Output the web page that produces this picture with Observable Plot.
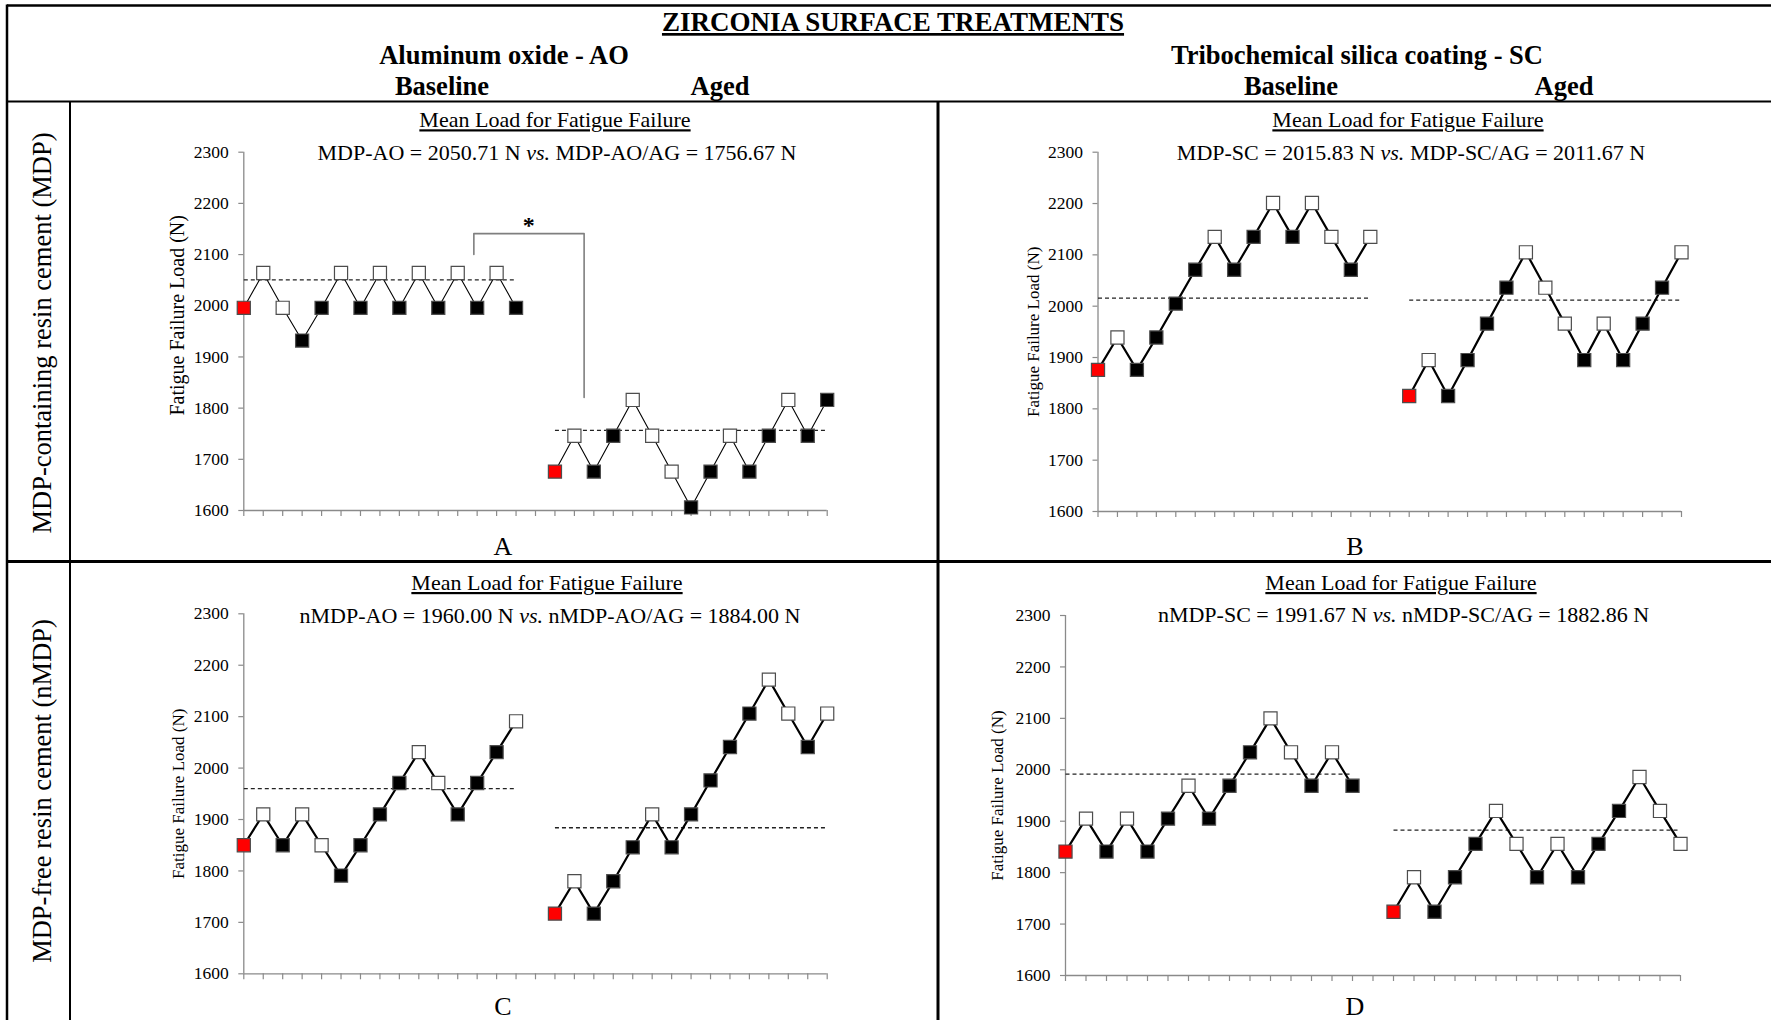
<!DOCTYPE html>
<html>
<head>
<meta charset="utf-8">
<script src="https://cdn.jsdelivr.net/npm/d3@7"></script>
<script src="https://cdn.jsdelivr.net/npm/@observablehq/plot@0.6"></script>
<style>
html, body { margin: 0; padding: 0; background: #fff; }
#root { position: relative; width: 1771px; height: 1020px; overflow: hidden; background: #fff; }
#root svg.panel { position: absolute; }
#overlay { position: absolute; left: 0; top: 0; pointer-events: none; }
</style>
</head>
<body>
<div id="root"></div>
<script>
// ---------------- DATA ----------------
const xDomain = [0, 30];
const yDomain = [1600, 2300];
const xTicks = [0,1,2,3,4,5,6,7,8,9,10,11,12,13,14,15,16,17,18,19,20,21,22,23,24,25,26,27,28,29,30];
const yTicks = [1600, 1700, 1800, 1900, 2000, 2100, 2200, 2300];
const trialsBaseline = [0,1,2,3,4,5,6,7,8,9,10,11,12,13,14];
const trialsAged = [16,17,18,19,20,21,22,23,24,25,26,27,28,29,30];
const yLabel = "Fatigue Failure Load (N)";

// A: MDP / Aluminum oxide
const aoMdpBaseline = [1996, 2064, 1996, 1932, 1996, 2064, 1996, 2064, 1996, 2064, 1996, 2064, 1996, 2064, 1996];
const aoMdpBaselineOutcome = ["R","W","W","B","B","W","B","W","B","W","B","W","B","W","B"];
const aoMdpAged = [1676, 1746, 1676, 1746, 1816, 1746, 1676, 1606, 1676, 1746, 1676, 1746, 1816, 1746, 1816];
const aoMdpAgedOutcome = ["R","W","B","B","W","W","W","B","B","W","B","B","W","B","B"];
const aoMdpMeans = [2050.71, 1756.67];

// B: MDP / Silica coating
const scMdpBaseline = [1876, 1939, 1876, 1939, 2005, 2071, 2135, 2071, 2135, 2201, 2135, 2201, 2135, 2071, 2135];
const scMdpBaselineOutcome = ["R","W","B","B","B","B","W","B","B","W","B","W","W","B","W"];
const scMdpAged = [1825, 1895, 1825, 1895, 1966, 2036, 2105, 2036, 1966, 1895, 1966, 1895, 1966, 2036, 2105];
const scMdpAgedOutcome = ["R","W","B","B","B","B","W","W","W","B","W","B","B","B","W"];
const scMdpMeans = [2015.83, 2011.67];

// C: nMDP / Aluminum oxide
const aoNmdpBaseline = [1850, 1910, 1850, 1910, 1850, 1791, 1850, 1910, 1971, 2031, 1971, 1910, 1971, 2031, 2091];
const aoNmdpBaselineOutcome = ["R","W","B","W","W","B","B","B","B","W","W","B","B","B","W"];
const aoNmdpAged = [1717, 1780, 1717, 1780, 1846, 1910, 1846, 1910, 1976, 2041, 2106, 2172, 2106, 2041, 2106];
const aoNmdpAgedOutcome = ["R","W","B","B","B","W","B","B","B","B","B","W","W","B","W"];
const aoNmdpMeans = [1960.00, 1884.00];

// D: nMDP / Silica coating
const scNmdpBaseline = [1841, 1905, 1841, 1905, 1841, 1905, 1969, 1905, 1969, 2034, 2100, 2034, 1969, 2034, 1969];
const scNmdpBaselineOutcome = ["R","W","B","W","B","B","W","B","B","B","W","W","B","W","B"];
const scNmdpAged = [1724, 1791, 1724, 1791, 1856, 1920, 1856, 1791, 1856, 1791, 1856, 1920, 1986, 1920, 1856];
const scNmdpAgedOutcome = ["R","W","B","B","B","W","W","B","W","B","B","B","W","W","W"];
const scNmdpMeans = [1991.67, 1882.86];

// significance bracket in panel A (trial position, load)
const bracketA = [{t: 11.83, v: 2100}, {t: 11.83, v: 2141}, {t: 17.5, v: 2141}, {t: 17.5, v: 1821}];
const asteriskA = [{t: 14.65, v: 2157, s: "*"}];

const groupNames = {
  A: ["MDP-AO", "MDP-AO/AG"], B: ["MDP-SC", "MDP-SC/AG"],
  C: ["nMDP-AO", "nMDP-AO/AG"], D: ["nMDP-SC", "nMDP-SC/AG"]
};

// ---------------- LAYOUT / STYLE ----------------
const FONT = "'Liberation Serif', 'Times New Roman', Times, serif";
const axisGray = "#8a8a8a";
const fillOf = {R: "#ff0000", W: "#ffffff", B: "#000000"};

const panels = [
  {id: "A", baseline: aoMdpBaseline, baselineOutcome: aoMdpBaselineOutcome, aged: aoMdpAged, agedOutcome: aoMdpAgedOutcome, means: aoMdpMeans,
   L: 80, T: 120, W: 770, H: 420, axisX: 243.3, xEnd: 826.7, yTop: 151.7, yBot: 510, lw: 1.1, labDx: -65.8, labDy: -16, labSize: 20,
   sub1: [555, 127.3], sub2: [557, 160], letter: [503, 555], bracket: true},
  {id: "B", baseline: scMdpBaseline, baselineOutcome: scMdpBaselineOutcome, aged: scMdpAged, agedOutcome: scMdpAgedOutcome, means: scMdpMeans,
   L: 950, T: 120, W: 800, H: 420, axisX: 1097.5, xEnd: 1681, yTop: 151.7, yBot: 511, lw: 2.2, labDx: -64.5, labDy: 0, labSize: 17,
   sub1: [1408, 127.3], sub2: [1411, 160], letter: [1355, 555]},
  {id: "C", baseline: aoNmdpBaseline, baselineOutcome: aoNmdpBaselineOutcome, aged: aoNmdpAged, agedOutcome: aoNmdpAgedOutcome, means: aoNmdpMeans,
   L: 80, T: 580, W: 770, H: 420, axisX: 243.3, xEnd: 826.7, yTop: 613.3, yBot: 973.3, lw: 2.2, labDx: -65.3, labDy: 0, labSize: 17,
   sub1: [547, 590], sub2: [550, 622.7], letter: [503, 1015]},
  {id: "D", baseline: scNmdpBaseline, baselineOutcome: scNmdpBaselineOutcome, aged: scNmdpAged, agedOutcome: scNmdpAgedOutcome, means: scNmdpMeans,
   L: 950, T: 580, W: 800, H: 420, axisX: 1065, xEnd: 1680, yTop: 615, yBot: 975, lw: 2.2, labDx: -68, labDy: 0, labSize: 17,
   sub1: [1401, 590], sub2: [1403.5, 621.7], letter: [1355, 1015]}
];

const root = document.getElementById("root");

function makePanel(p) {
  const rows = [];
  p.baseline.forEach((v, i) => rows.push({t: trialsBaseline[i], v, o: p.baselineOutcome[i], g: "baseline"}));
  p.aged.forEach((v, i) => rows.push({t: trialsAged[i], v, o: p.agedOutcome[i], g: "aged"}));
  const means = [
    {t1: trialsBaseline[0], t2: trialsBaseline[trialsBaseline.length - 1], v: p.means[0]},
    {t1: trialsAged[0], t2: trialsAged[trialsAged.length - 1], v: p.means[1]}
  ];
  const marks = [
    Plot.ruleY([yDomain[0]], {stroke: axisGray, strokeWidth: 1.3}),
    Plot.ruleX([xDomain[0]], {stroke: axisGray, strokeWidth: 1.3}),
    Plot.axisX({ticks: xTicks, tickSize: 6, stroke: axisGray, strokeWidth: 1.2, fill: "none", label: null}),
    Plot.axisY({ticks: yTicks, tickSize: 5, tickPadding: 10, stroke: axisGray, strokeWidth: 1.2, fill: "#000", fontSize: 17.5, label: null, tickFormat: d => String(d)}),
    Plot.text([yLabel], {frameAnchor: "left", textAnchor: "middle", lineAnchor: "middle", rotate: -90, dx: p.labDx, dy: p.labDy, text: d => d, fontSize: p.labSize, fill: "#000"}),
    Plot.link(means, {x1: "t1", x2: "t2", y1: "v", y2: "v", stroke: "#222", strokeWidth: 1.3, strokeDasharray: "4,3"})
  ];
  if (p.bracket) {
    marks.push(Plot.line(bracketA, {x: "t", y: "v", stroke: "#7f7f7f", strokeWidth: 1.6}));
    marks.push(Plot.text(asteriskA, {x: "t", y: "v", text: "s", fontSize: 24, fontWeight: "bold", fill: "#000"}));
  }
  marks.push(Plot.line(rows, {x: "t", y: "v", z: "g", stroke: "#000", strokeWidth: p.lw}));
  marks.push(Plot.dot(rows, {x: "t", y: "v", symbol: "square", r: 7.4, fill: d => fillOf[d.o], stroke: "#4d4d4d", strokeWidth: 1.2}));

  const svg = Plot.plot({
    width: p.W, height: p.H,
    marginLeft: p.axisX - p.L, marginRight: p.L + p.W - p.xEnd,
    marginTop: p.yTop - p.T, marginBottom: p.T + p.H - p.yBot,
    x: {domain: xDomain, label: null},
    y: {domain: yDomain, label: null},
    style: {fontFamily: FONT, fontSize: "17px", background: "transparent", overflow: "visible", color: "#000"},
    marks
  });
  svg.classList.add("panel");
  svg.style.left = p.L + "px";
  svg.style.top = p.T + "px";
  root.appendChild(svg);
}

panels.forEach(makePanel);

// ---------------- TABLE FRAME & TEXTS ----------------
const ov = d3.select(root).append("svg").attr("id", "overlay")
  .attr("width", 1771).attr("height", 1020)
  .style("font-family", FONT);

const borders = [
  {x1: 7, y1: 5.5, x2: 1771, y2: 5.5, w: 2.5},
  {x1: 7, y1: 4.5, x2: 7, y2: 1020, w: 2.5},
  {x1: 7, y1: 101.5, x2: 1771, y2: 101.5, w: 2},
  {x1: 70, y1: 101, x2: 70, y2: 1020, w: 2},
  {x1: 938, y1: 101, x2: 938, y2: 1020, w: 3},
  {x1: 7, y1: 561.5, x2: 1771, y2: 561.5, w: 3}
];
ov.selectAll("line.b").data(borders).join("line")
  .attr("x1", d => d.x1).attr("y1", d => d.y1).attr("x2", d => d.x2).attr("y2", d => d.y2)
  .attr("stroke", "#000").attr("stroke-width", d => d.w);

const headers = [
  {s: "ZIRCONIA SURFACE TREATMENTS", x: 893, y: 31, size: 27, u: true},
  {s: "Aluminum oxide - AO", x: 504, y: 64, size: 26.5},
  {s: "Tribochemical silica coating - SC", x: 1357, y: 64, size: 26.5},
  {s: "Baseline", x: 442, y: 95, size: 26.5},
  {s: "Aged", x: 720, y: 95, size: 26.5},
  {s: "Baseline", x: 1291, y: 95, size: 26.5},
  {s: "Aged", x: 1564, y: 95, size: 26.5}
];
ov.selectAll("text.h").data(headers).join("text").attr("class", "h")
  .attr("x", d => d.x).attr("y", d => d.y).attr("text-anchor", "middle")
  .attr("font-weight", "bold").attr("font-size", d => d.size)
  .style("text-decoration", d => d.u ? "underline" : null)
  .text(d => d.s);

const rowLabels = [
  {s: "MDP-containing resin cement (MDP)", x: 42, y: 333},
  {s: "MDP-free resin cement (nMDP)", x: 42, y: 791}
];
ov.selectAll("text.r").data(rowLabels).join("text").attr("class", "r")
  .attr("transform", d => `translate(${d.x},${d.y}) rotate(-90)`)
  .attr("text-anchor", "middle").attr("dominant-baseline", "central")
  .attr("font-size", 26.5).text(d => d.s);

panels.forEach(p => {
  ov.append("text").attr("x", p.sub1[0]).attr("y", p.sub1[1]).attr("text-anchor", "middle")
    .attr("font-size", 22).style("text-decoration", "underline").text("Mean Load for Fatigue Failure");
  const names = groupNames[p.id];
  const t = ov.append("text").attr("x", p.sub2[0]).attr("y", p.sub2[1]).attr("text-anchor", "middle").attr("font-size", 22);
  t.append("tspan").text(`${names[0]} = ${p.means[0].toFixed(2)} N `);
  t.append("tspan").attr("font-style", "italic").text("vs.");
  t.append("tspan").text(` ${names[1]} = ${p.means[1].toFixed(2)} N`);
  ov.append("text").attr("x", p.letter[0]).attr("y", p.letter[1]).attr("text-anchor", "middle")
    .attr("font-size", 26).text(p.id);
});
</script>
</body>
</html>
